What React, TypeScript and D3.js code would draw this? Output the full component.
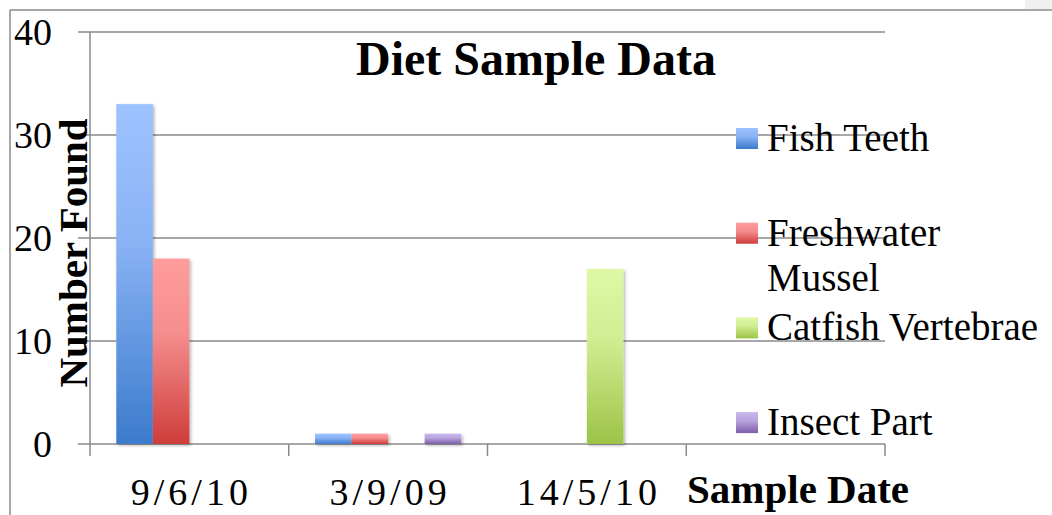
import React from "react";
import * as d3 from "d3";

const categories = ["9/6/10", "3/9/09", "14/5/10", ""];
const seriesNames = ["Fish Teeth", "Freshwater Mussel", "Catfish Vertebrae", "Insect Part"];
const fishTeeth = [33, 1, 0, 0];
const freshwaterMussel = [18, 1, 0, 0];
const catfishVertebrae = [0, 0, 17, 0];
const insectPart = [0, 1, 0, 0];
const yTicks = [0, 10, 20, 30, 40];
const legendLines = [["Fish Teeth"], ["Freshwater", "Mussel"], ["Catfish Vertebrae"], ["Insect Part"]];

const seriesValues = [fishTeeth, freshwaterMussel, catfishVertebrae, insectPart];
const gradients = [
  { id: "gBlue", top: "#9DC3FF", mid: "#8AB3F5", bottom: "#3C7BCC" },
  { id: "gRed", top: "#FF9C9C", mid: "#F58E8E", bottom: "#CE3D3A" },
  { id: "gGreen", top: "#DDF9A6", mid: "#D0EE92", bottom: "#9DC347" },
  { id: "gPurple", top: "#C9B6EC", mid: "#B9A4DE", bottom: "#7D5EA8" },
];

const FONT = "'Liberation Serif', 'Times New Roman', serif";
const GRID = "#8a8a8a";

export default function App() {
  const W = 1052, H = 515;
  const x = d3.scaleBand<string>().domain(categories).range([90, 885]).paddingInner(0).paddingOuter(0);
  const xs = d3.scaleBand<string>().domain(seriesNames).range([0, x.bandwidth()]).paddingInner(0).paddingOuter(0.72);
  const y = d3.scaleLinear().domain([0, 40]).range([444, 32]);
  const boundaries = [...categories.map((c) => x(c) as number), 885];

  return (
    <svg width={W} height={H} style={{ position: "absolute", left: 0, top: 0, background: "#fff" }}>
      <defs>
        {gradients.map((g) => (
          <linearGradient key={g.id} id={g.id} x1="0" y1="0" x2="0" y2="1">
            <stop offset="0" stopColor={g.top} />
            <stop offset="0.4" stopColor={g.mid} />
            <stop offset="1" stopColor={g.bottom} />
          </linearGradient>
        ))}
        <filter id="shadow" x="-20%" y="-20%" width="150%" height="150%">
          <feDropShadow dx="1.5" dy="1.5" stdDeviation="1.5" floodColor="#000" floodOpacity="0.3" />
        </filter>
      </defs>
      <rect x={0} y={0} width={W} height={H} fill="#fff" />
      <rect x={1025} y={0} width={27} height={9} fill="#f0f0f0" />
      {/* outer frame */}
      <line x1={10} y1={10} x2={W} y2={10} stroke={GRID} strokeWidth={1.5} />
      <line x1={10} y1={10} x2={10} y2={H} stroke={GRID} strokeWidth={1.5} />

      {/* gridlines */}
      {yTicks.map((t) => (
        <line key={t} x1={78} x2={885} y1={y(t)} y2={y(t)} stroke={GRID} strokeWidth={1.5} />
      ))}
      {/* y axis */}
      <line x1={90} x2={90} y1={y(40)} y2={y(0)} stroke={GRID} strokeWidth={1.5} />
      {/* x ticks */}
      {boundaries.map((b, i) => (
        <line key={i} x1={b} x2={b} y1={y(0)} y2={y(0) + 12} stroke={GRID} strokeWidth={1.5} />
      ))}

      {/* bars */}
      {seriesValues.map((vals, si) =>
        vals.map((v, ci) =>
          v > 0 ? (
            <rect
              key={`${si}-${ci}`}
              x={(x(categories[ci]) as number) + (xs(seriesNames[si]) as number)}
              y={y(v)}
              width={xs.bandwidth()}
              height={y(0) - y(v)}
              fill={`url(#${gradients[si].id})`}
              filter="url(#shadow)"
            />
          ) : null
        )
      )}

      {/* y tick labels */}
      {yTicks.map((t) => (
        <text key={t} x={52} y={y(t) + 13} textAnchor="end" fontFamily={FONT} fontSize={38} fill="#000">
          {t}
        </text>
      ))}
      {/* x tick labels */}
      {categories.map((c, i) =>
        c ? (
          <text
            key={i}
            x={(x(c) as number) + x.bandwidth() / 2 + 2}
            y={505}
            textAnchor="middle"
            fontFamily={FONT}
            fontSize={38}
            letterSpacing={4}
            fill="#000"
          >
            {c}
          </text>
        ) : null
      )}

      {/* title */}
      <text x={536} y={75} textAnchor="middle" fontFamily={FONT} fontSize={48} fontWeight="bold" fill="#000">
        Diet Sample Data
      </text>
      {/* axis titles */}
      <text x={687} y={503} fontFamily={FONT} fontSize={41} fontWeight="bold" fill="#000">
        Sample Date
      </text>
      <text
        transform={`translate(87, 253) rotate(-90)`}
        textAnchor="middle"
        fontFamily={FONT}
        fontSize={41}
        fontWeight="bold"
        fill="#000"
      >
        Number Found
      </text>

      {/* legend */}
      {legendLines.map((lines, i) => {
        const cy = 138.5 + i * 94.7;
        return (
          <g key={i}>
            <rect x={736} y={cy - 10.5} width={22} height={21} fill={`url(#${gradients[i].id})`} />
            {lines.map((ln, j) => (
              <text key={j} x={767} y={cy + 12.5 + j * 45.5} fontFamily={FONT} fontSize={39} fill="#000">
                {ln}
              </text>
            ))}
          </g>
        );
      })}
    </svg>
  );
}
